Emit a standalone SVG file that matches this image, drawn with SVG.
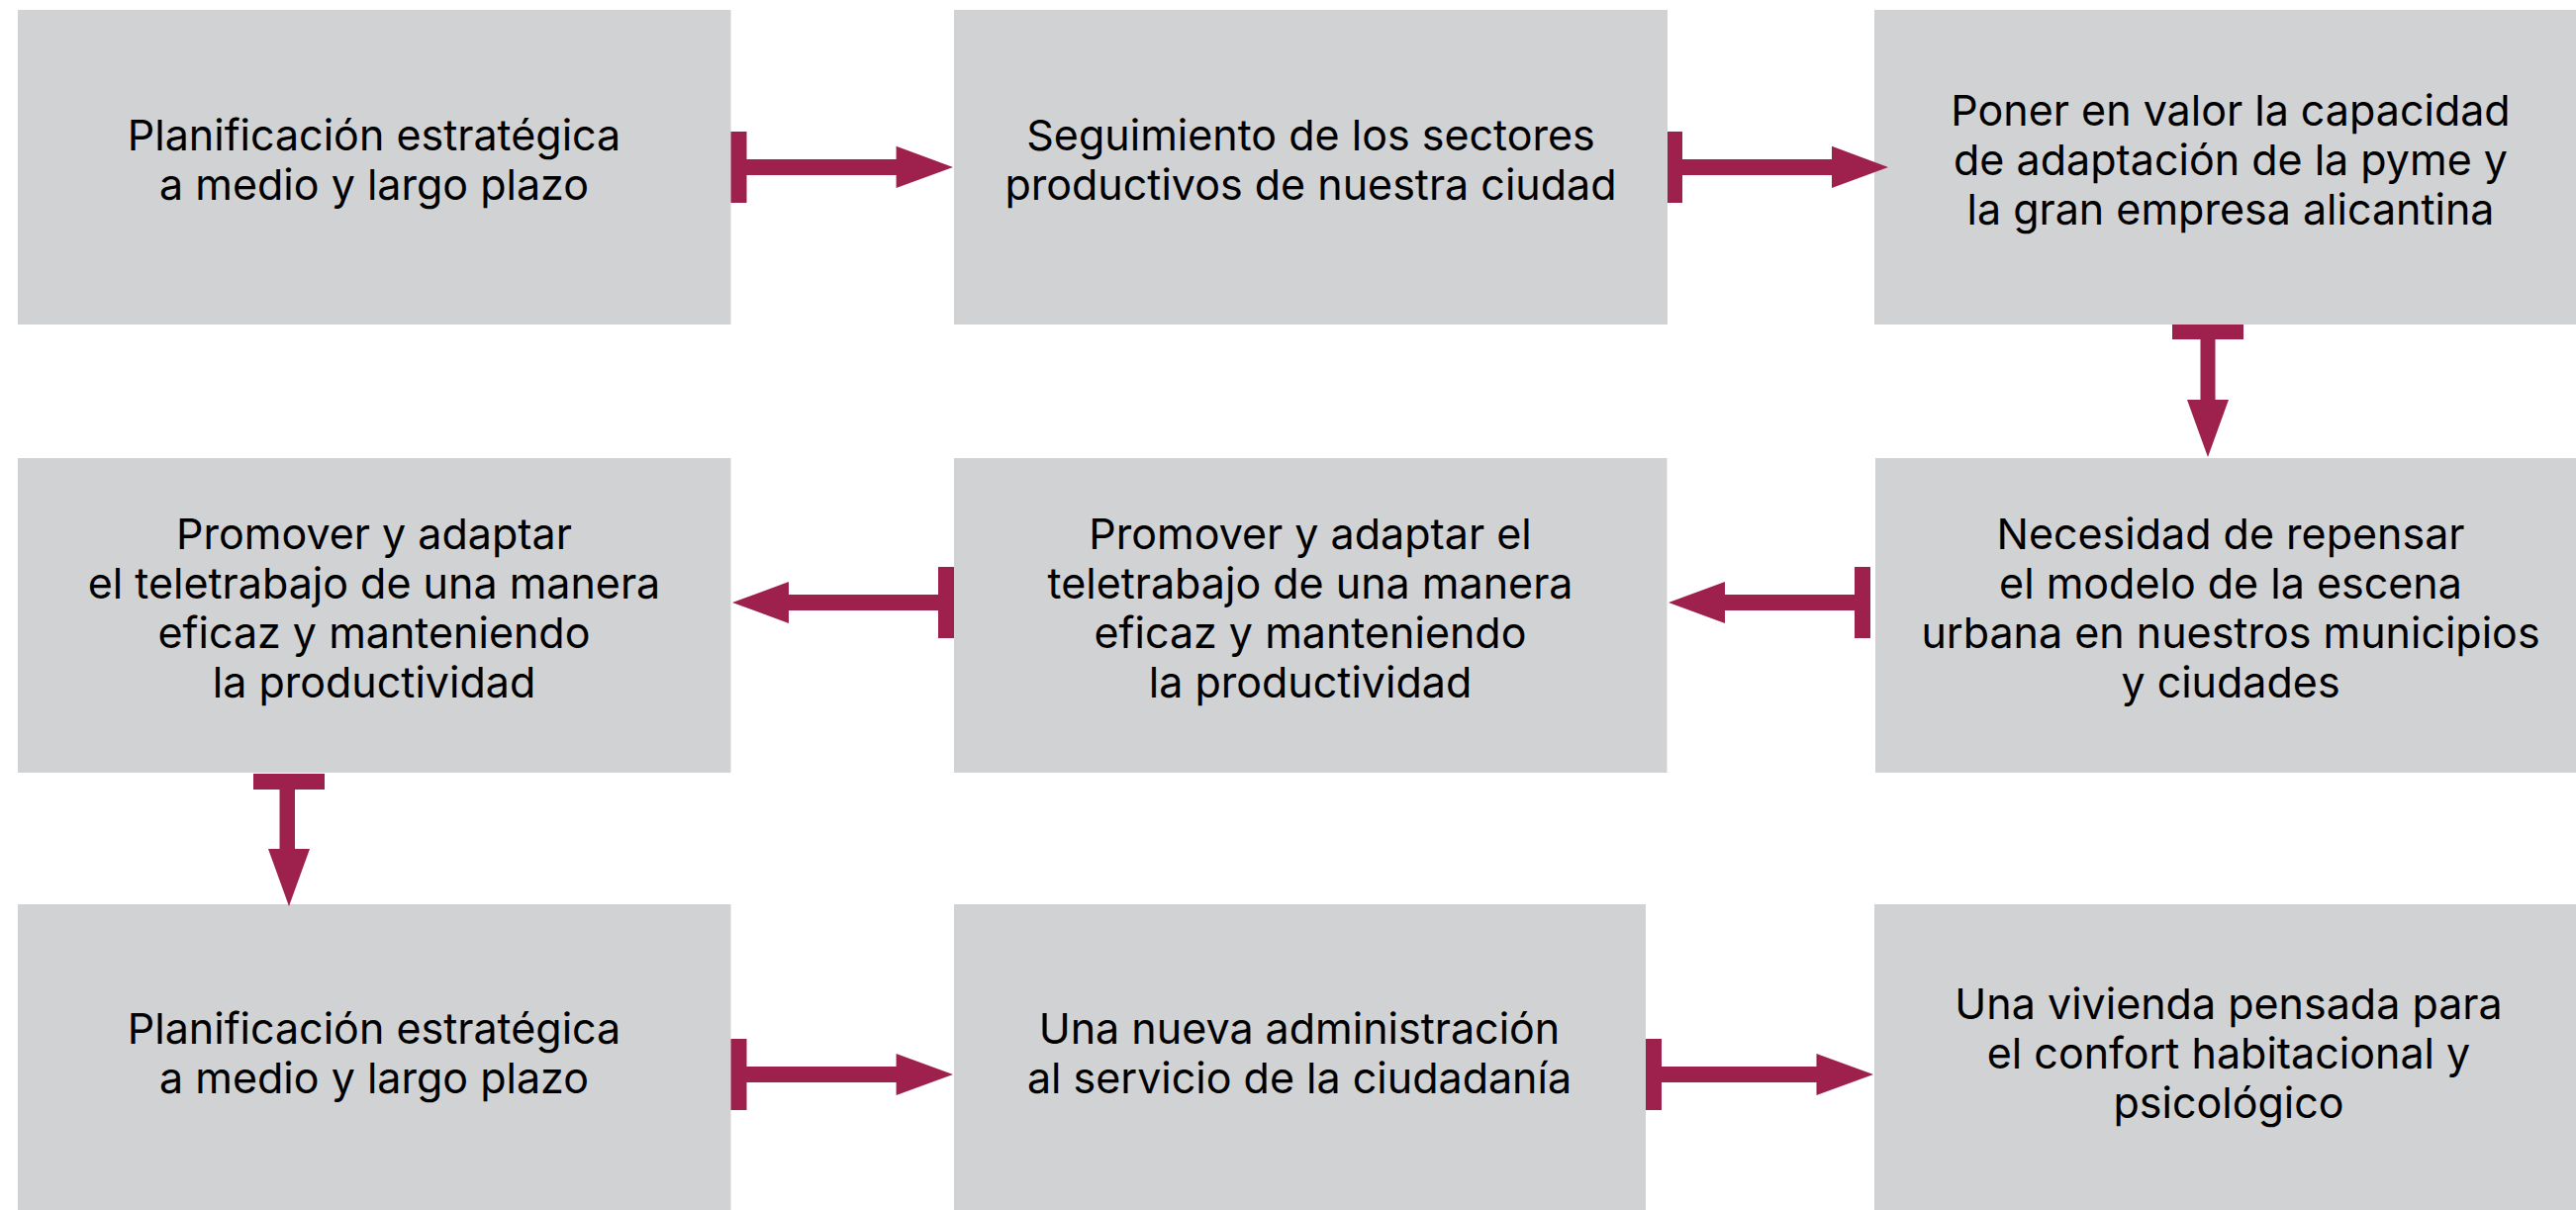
<svg xmlns="http://www.w3.org/2000/svg" width="2603" height="1223" viewBox="0 0 2603 1223">
<style>
.box{fill:#D1D2D4}
.t{font-family:Inter,"Liberation Sans",Arial,sans-serif;font-size:43px;fill:#000;text-anchor:middle}
.c{fill:#9E214D}
</style>
<rect width="2603" height="1223" fill="#fff"/>
<g id="n1"><rect class="box" x="18" y="10" width="720.5" height="318"/>
<text class="t" x="378" y="151.7">Planificación estratégica</text><text class="t" x="378" y="201.7">a medio y largo plazo</text></g>
<g id="n2"><rect class="box" x="964" y="10" width="721" height="318"/>
<text class="t" x="1324.5" y="151.7">Seguimiento de los sectores</text><text class="t" x="1324.5" y="201.7">productivos de nuestra ciudad</text></g>
<g id="n3"><rect class="box" x="1894" y="10" width="720" height="318"/>
<text class="t" x="2254" y="126.7">Poner en valor la capacidad</text><text class="t" x="2254" y="176.7">de adaptación de la pyme y</text><text class="t" x="2254" y="226.7">la gran empresa alicantina</text></g>
<g id="n4"><rect class="box" x="18" y="463" width="720.5" height="318"/>
<text class="t" x="378" y="555">Promover y adaptar</text><text class="t" x="378" y="605">el teletrabajo de una manera</text><text class="t" x="378" y="655">eficaz y manteniendo</text><text class="t" x="378" y="705">la productividad</text></g>
<g id="n5"><rect class="box" x="964" y="463" width="720.5" height="318"/>
<text class="t" x="1324" y="555">Promover y adaptar el</text><text class="t" x="1324" y="605">teletrabajo de una manera</text><text class="t" x="1324" y="655">eficaz y manteniendo</text><text class="t" x="1324" y="705">la productividad</text></g>
<g id="n6"><rect class="box" x="1895" y="463" width="720" height="318"/>
<text class="t" x="2254" y="555">Necesidad de repensar</text><text class="t" x="2254" y="605">el modelo de la escena</text><text class="t" x="2254" y="655">urbana en nuestros municipios</text><text class="t" x="2254" y="705">y ciudades</text></g>
<g id="n7"><rect class="box" x="18" y="914" width="720.5" height="318"/>
<text class="t" x="378" y="1055">Planificación estratégica</text><text class="t" x="378" y="1105">a medio y largo plazo</text></g>
<g id="n8"><rect class="box" x="964" y="914" width="699" height="318"/>
<text class="t" x="1313" y="1055">Una nueva administración</text><text class="t" x="1313" y="1105">al servicio de la ciudadanía</text></g>
<g id="n9"><rect class="box" x="1894" y="914" width="720" height="318"/>
<text class="t" x="2252" y="1030">Una vivienda pensada para</text><text class="t" x="2252" y="1080">el confort habitacional y</text><text class="t" x="2252" y="1130">psicológico</text></g>
<g id="connectors" class="c">
<path d="M738.5 133H754.5V161H905.6V147.7L963 169L905.6 190V177H754.5V205H738.5Z"/>
<path d="M1685 133H1700V161H1851V147.7L1908 169L1851 190V177H1700V205H1685Z"/>
<path d="M2195 328H2267V343H2238.5V404H2252L2231 462L2210 404H2223.5V343H2195Z"/>
<path d="M1890 573H1874V601H1743V588L1686 609L1743 630V617H1874V645H1890Z"/>
<path d="M964 573H948V601H797V588L740 609L797 630V617H948V645H964Z"/>
<path d="M256 782H328V798H298V858H313L292 916L271 858H282.5V798H256Z"/>
<path d="M738.5 1050H754.5V1078H905.6V1065L963 1086L905.6 1107V1094H754.5V1122H738.5Z"/>
<path d="M1663 1050H1679V1078H1835.5V1065L1893 1086L1835.5 1107V1094H1679V1122H1663Z"/>
</g>
</svg>
